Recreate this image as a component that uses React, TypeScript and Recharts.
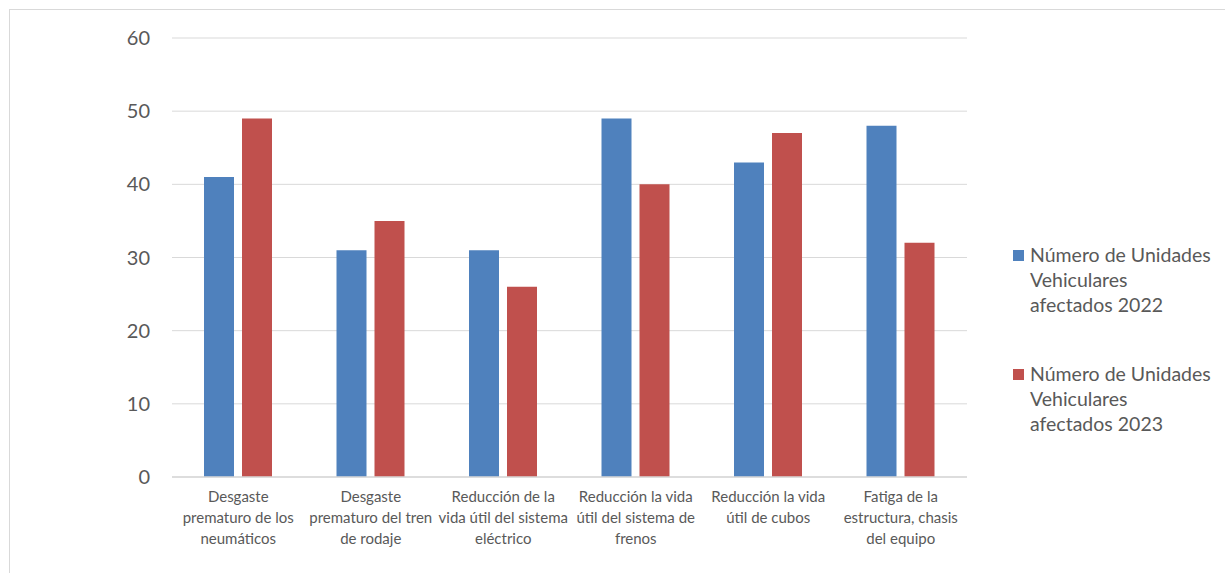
import React from 'react';
import { BarChart, Bar, XAxis, YAxis, CartesianGrid, Legend } from 'recharts';

// Categorías (saltos de línea como en el original)
const categories = [
  'Desgaste\nprematuro de los\nneumáticos',
  'Desgaste\nprematuro del tren\nde rodaje',
  'Reducción de la\nvida útil del sistema\neléctrico',
  'Reducción la vida\nútil del sistema de\nfrenos',
  'Reducción la vida\nútil de cubos',
  'Fatiga de la\nestructura, chasis\ndel equipo',
];
const serie2022 = [41, 31, 31, 49, 43, 48];
const serie2023 = [49, 35, 26, 40, 47, 32];
const yTicks = [0, 10, 20, 30, 40, 50, 60];
const seriesNames = [
  'Número de Unidades Vehiculares afectados 2022',
  'Número de Unidades Vehiculares afectados 2023',
];
const legendLines = [
  ['Número de Unidades', 'Vehiculares', 'afectados 2022'],
  ['Número de Unidades', 'Vehiculares', 'afectados 2023'],
];

const data = categories.map((c, i) => ({ name: c, a: serie2022[i], b: serie2023[i] }));

const FONT = 'Lato, "Open Sans", sans-serif';
const TEXT = '#595959';
const LEGEND_W = 210;

const CategoryTick = (props: any) => {
  const { x, y, payload } = props;
  const lines = String(payload.value).split('\n');
  return (
    <text x={x} y={y} textAnchor="middle" fill={TEXT} fontSize={15} fontFamily={FONT}>
      {lines.map((l, i) => (
        <tspan key={i} x={x} dy={i === 0 ? 17 : 21}>{l}</tspan>
      ))}
    </text>
  );
};

const LegendBox = (props: any) => {
  const items = props.payload || [];
  return (
    <div style={{ fontFamily: FONT, fontSize: 19.5, color: TEXT, width: LEGEND_W }}>
      {items.map((it: any, i: number) => (
        <div key={i} style={{ display: 'flex', alignItems: 'flex-start', marginBottom: i === 0 ? 44 : 0 }}>
          <div style={{ width: 11, height: 11, background: it.color, marginTop: 8, marginRight: 6, flex: 'none' }} />
          <div style={{ lineHeight: '25px' }}>
            {legendLines[i].map((l, j) => <div key={j}>{l}</div>)}
          </div>
        </div>
      ))}
    </div>
  );
};

const App = () => {
  return (
    <div style={{ position: 'absolute', left: 0, top: 0, width: 1225, height: 573, background: 'white', overflow: 'hidden' }}>
      <div style={{ position: 'absolute', left: 9, top: 9, width: 1230, height: 570, borderLeft: '1px solid #d9d9d9', borderTop: '1px solid #d9d9d9' }} />
      <BarChart
        width={1225}
        height={573}
        data={data}
        margin={{ top: 38, right: 258 - LEGEND_W, left: 112, bottom: 36 }}
        barCategoryGap={32}
        barGap={8}
        style={{ position: 'absolute', left: 0, top: 0 }}
      >
        <CartesianGrid vertical={false} stroke="#d9d9d9" strokeWidth={1} />
        <XAxis
          dataKey="name"
          interval={0}
          height={60}
          tickLine={false}
          axisLine={{ stroke: '#d9d9d9', strokeWidth: 1.5 }}
          tick={<CategoryTick />}
        />
        <YAxis
          domain={[0, 60]}
          ticks={yTicks}
          width={60}
          axisLine={false}
          tickLine={false}
          tickMargin={16}
          tick={{ fill: TEXT, fontSize: 20, fontFamily: FONT }}
        />
        <Legend
          layout="vertical"
          align="right"
          verticalAlign="top"
          content={<LegendBox />}
          wrapperStyle={{ left: 1013, top: 242, width: LEGEND_W }}
        />
        <Bar dataKey="a" name={seriesNames[0]} fill="#4F81BD" isAnimationActive={false} />
        <Bar dataKey="b" name={seriesNames[1]} fill="#C0504D" isAnimationActive={false} />
      </BarChart>
    </div>
  );
};

export default App;
